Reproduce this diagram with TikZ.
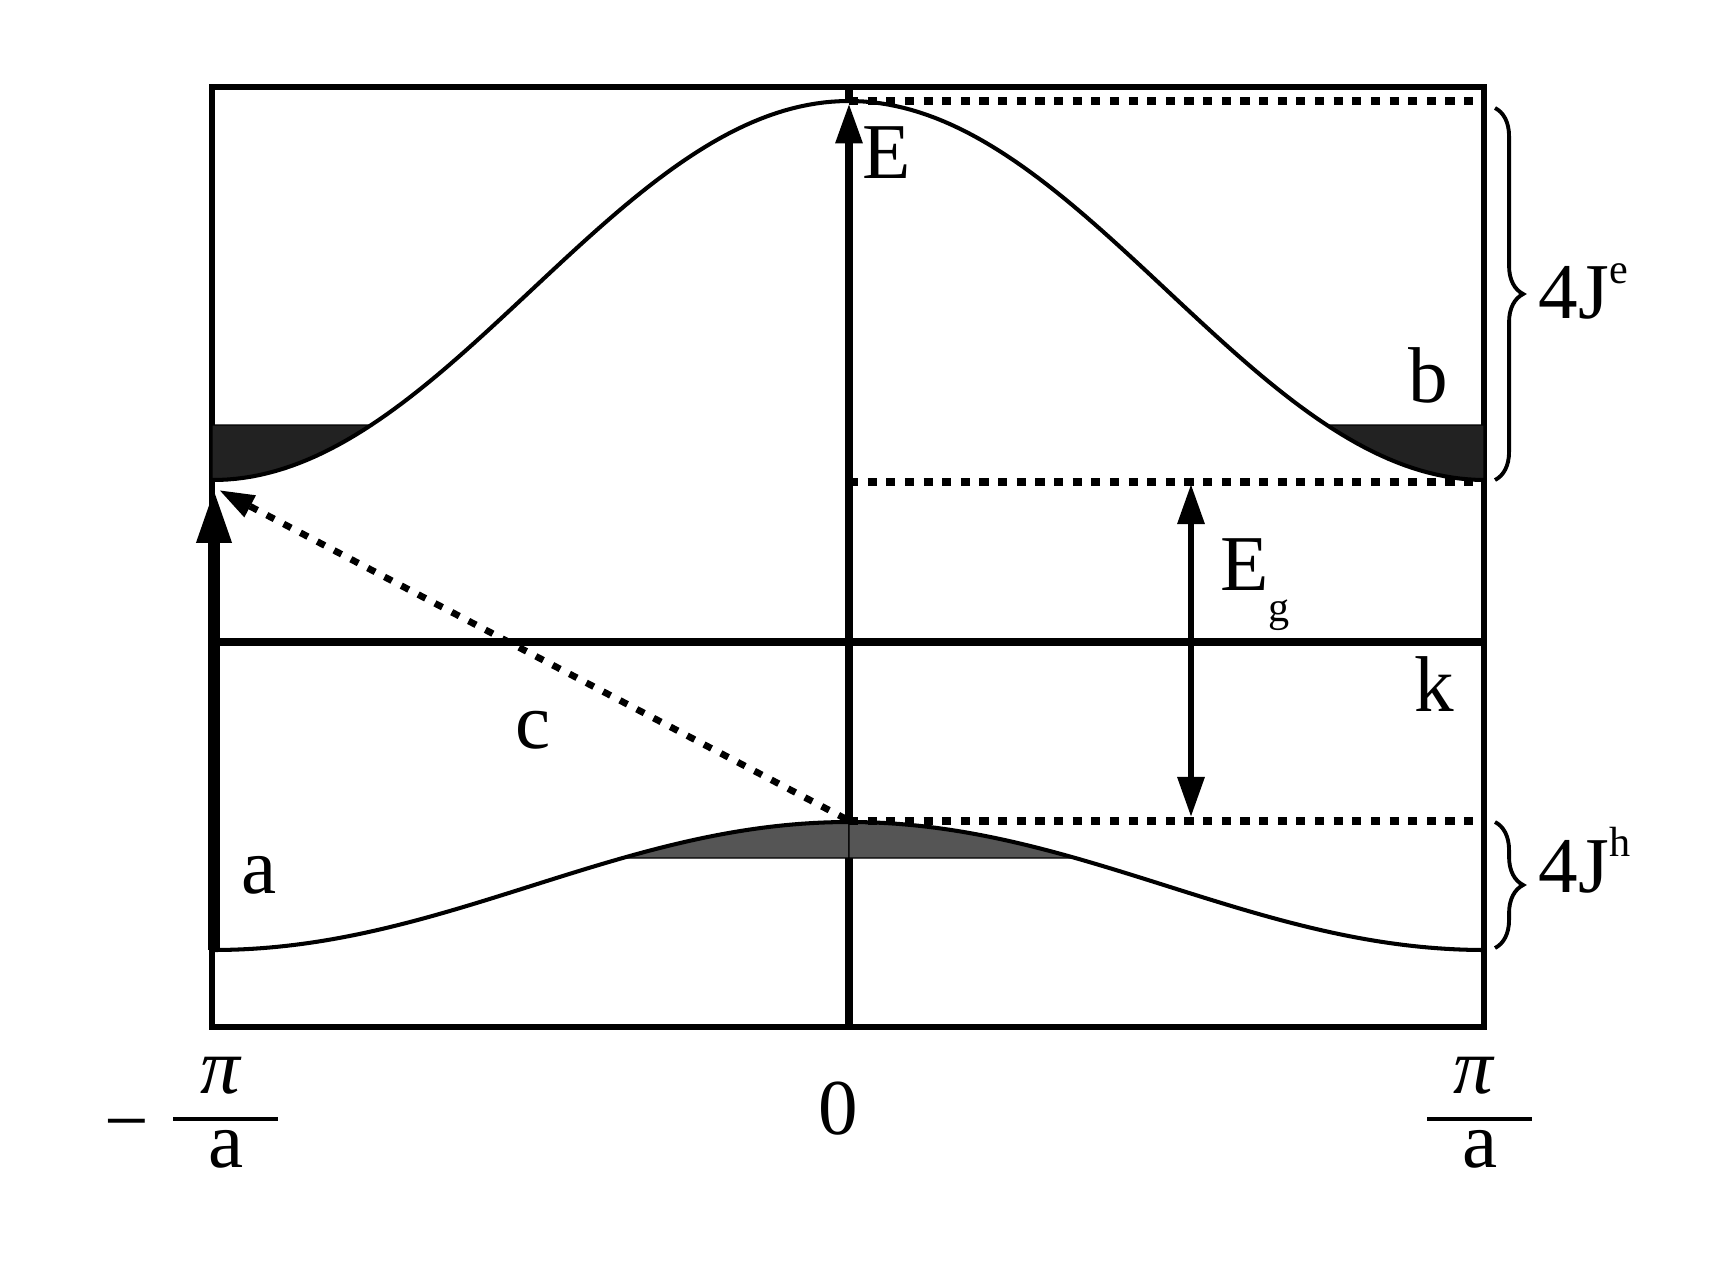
\documentclass[tikz,border=0pt]{standalone}
\usepackage{fontspec}
\setmainfont{Liberation Serif}
\usetikzlibrary{arrows.meta,decorations.pathreplacing}
\definecolor{shadeA}{HTML}{222222}
\definecolor{shadeB}{HTML}{555555}
\begin{document}
\begin{tikzpicture}[x=0.01cm,y=-0.01cm,
  declare function={up(\x)=290.5-189.5*cos(((\x-849)/636)*180); lo(\x)=886-64*cos(((\x-849)/636)*180);},
  frame/.style={line width=1.45pt},
  axisline/.style={line width=2.3pt},
  band/.style={line width=1.15pt},
  dotline/.style={line width=2pt, dash pattern=on 2.6pt off 2.7pt},
  shadeup/.style={fill=shadeA, draw=black, line width=0.4pt},
  shadelo/.style={fill=shadeB, draw=black, line width=0.4pt},
  lbl/.style={inner sep=0pt, font=\fontsize{22.5}{27}\selectfont},
  small/.style={inner sep=0pt, font=\fontsize{12}{14}\selectfont},
  bracestyle/.style={decorate, decoration={brace, amplitude=8pt}, line width=1.1pt},
  bar/.style={line width=1.1pt}]
\useasboundingbox (0,0) rectangle (1729,1263);
% frame
\draw[frame] (212,87) rectangle (1484,1027);
% named points
\coordinate (Ebot) at (849,1027);
\coordinate (Etip) at (849,103);
\coordinate (Etop) at (849,87);
\coordinate (kl) at (212,642);
\coordinate (kr) at (1484,642);
\coordinate (Gtop) at (1191,484);
\coordinate (Gbot) at (1191,817);
\coordinate (Abot) at (214,950);
\coordinate (Atip) at (214,488);
\coordinate (Cstart) at (846,819);
\coordinate (Ctip) at (219,490);
% axes
\draw[axisline] (kl) -- (kr);
\draw[axisline, -{Triangle[length=11.5pt,width=7.2pt]}] (Ebot) -- (Etip);
\draw[axisline] (Etip) -- (Etop);
% shaded regions
\filldraw[shadeup] (212,425) -- (371.2,425) -- plot[domain=371.2:212,samples=40] (\x,{up(\x)}) -- cycle;
\filldraw[shadeup] (1484,425) -- (1326.8,425) -- plot[domain=1326.8:1484,samples=40] (\x,{up(\x)}) -- cycle;
\filldraw[shadelo] (622.7,858) -- (849,858) -- (849,822) -- plot[domain=849:622.7,samples=40] (\x,{lo(\x)}) -- cycle;
\filldraw[shadelo] (1075.3,858) -- (849,858) -- (849,822) -- plot[domain=849:1075.3,samples=40] (\x,{lo(\x)}) -- cycle;
% bands
\draw[band] plot[domain=212:1484,samples=161] (\x,{up(\x)});
\draw[band] plot[domain=214:1484,samples=161] (\x,{lo(\x)});
% dotted levels
\draw[dotline] (849,101) -- (1484,101);
\draw[dotline] (849,482) -- (1484,482);
\draw[dotline] (849,821) -- (1484,821);
% arrows
\draw[line width=1.8pt, {Triangle[length=11.4pt,width=7.4pt]}-{Triangle[length=11.4pt,width=7.4pt]}] (Gtop) -- (Gbot);
\draw[line width=3.4pt, -{Triangle[length=15.6pt,width=9.1pt]}] (Abot) -- (Atip);
\draw[line width=1.9pt, dash pattern=on 2.4pt off 3pt, -{Triangle[length=10pt,width=6.5pt]}] (Cstart) -- (Ctip);
% braces
\draw[bracestyle] (1495,108) -- (1495,480);
\draw[bracestyle] (1495,822) -- (1495,948);
% labels
\node[lbl, anchor=base west] (lE) at (862,178) {E};
\node[lbl, anchor=base west] (lEg) at (1220,590) {E};
\node[small, anchor=base west] (lg) at (1268,621) {g};
\node[lbl, anchor=base] (lb) at (1428,402) {b};
\node[lbl, anchor=base] (lk) at (1434,711) {k};
\node[lbl, anchor=base] (lc) at (533,748) {c};
\node[lbl, anchor=base] (la) at (259,893) {a};
\node[lbl, anchor=base] (l0) at (838,1134) {0};
\node[lbl, anchor=base west] (lJe) at (1538,318) {4J\raisebox{9.7pt}{\fontsize{12}{14}\selectfont e}};
\node[lbl, anchor=base west] (lJh) at (1538,892) {4J\raisebox{10pt}{\fontsize{12}{14}\selectfont h}};
% k-axis ticks
\node[lbl, anchor=base] (mn) at (127,1147) {−};
\node[lbl, anchor=base] (pil) at (220,1093) {\itshape π};
\draw[bar] (173,1119) -- (278,1119);
\node[lbl, anchor=base] (al) at (226,1167) {a};
\node[lbl, anchor=base] (pir) at (1473,1093) {\itshape π};
\draw[bar] (1427,1119) -- (1532,1119);
\node[lbl, anchor=base] (ar) at (1480,1167) {a};
\end{tikzpicture}
\end{document}
